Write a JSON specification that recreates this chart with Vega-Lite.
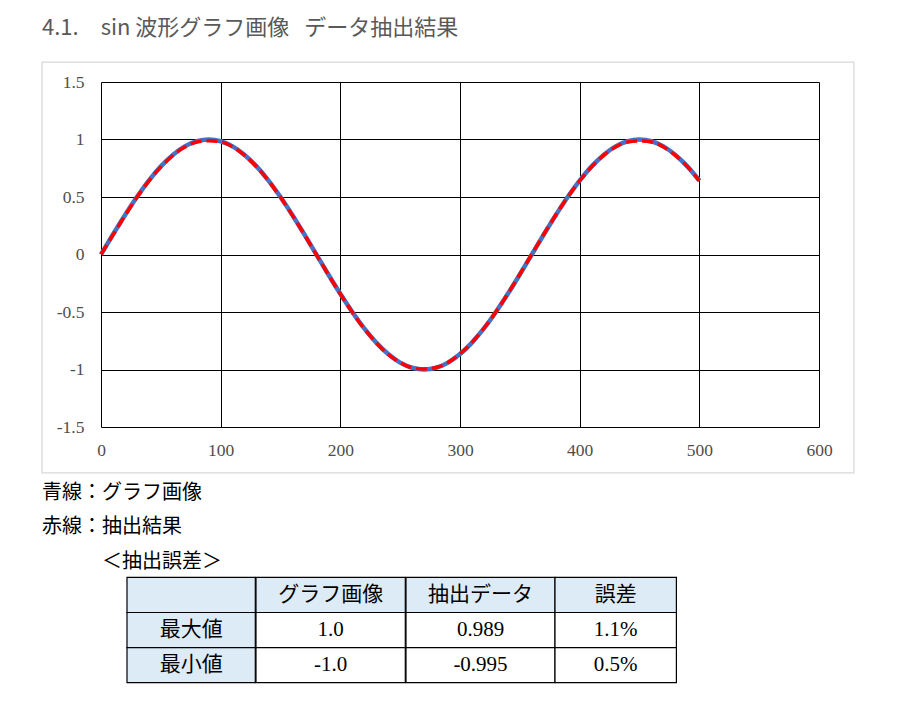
{
  "$schema": "https://vega.github.io/schema/vega-lite/v6.json",
  "background": "white",
  "padding": {"left": 41, "top": 17, "right": 0, "bottom": 0},
  "bounds": "flush",
  "spacing": 150.4,
  "title": {
    "text": "4.1.　sin 波形グラフ画像\u00a0\u00a0\u00a0データ抽出結果",
    "anchor": "start",
    "frame": "group",
    "dx": -59,
    "offset": 21,
    "font": "Noto Sans CJK JP",
    "fontSize": 22,
    "fontWeight": "normal",
    "color": "#595959"
  },
  "config": {"view": {"stroke": null}},
  "datasets": {
    "sine": [
      {"deg": 0, "img": 0, "ext": 0.002},
      {"deg": 10, "img": 0.174, "ext": 0.170},
      {"deg": 20, "img": 0.342, "ext": 0.338},
      {"deg": 30, "img": 0.5, "ext": 0.497},
      {"deg": 40, "img": 0.643, "ext": 0.640},
      {"deg": 50, "img": 0.766, "ext": 0.762},
      {"deg": 60, "img": 0.866, "ext": 0.861},
      {"deg": 70, "img": 0.940, "ext": 0.934},
      {"deg": 80, "img": 0.985, "ext": 0.978},
      {"deg": 90, "img": 1.0, "ext": 0.989},
      {"deg": 100, "img": 0.985, "ext": 0.980},
      {"deg": 110, "img": 0.940, "ext": 0.936},
      {"deg": 120, "img": 0.866, "ext": 0.862},
      {"deg": 130, "img": 0.766, "ext": 0.763},
      {"deg": 140, "img": 0.643, "ext": 0.640},
      {"deg": 150, "img": 0.5, "ext": 0.497},
      {"deg": 160, "img": 0.342, "ext": 0.340},
      {"deg": 170, "img": 0.174, "ext": 0.172},
      {"deg": 180, "img": 0, "ext": -0.002},
      {"deg": 190, "img": -0.174, "ext": -0.176},
      {"deg": 200, "img": -0.342, "ext": -0.344},
      {"deg": 210, "img": -0.5, "ext": -0.503},
      {"deg": 220, "img": -0.643, "ext": -0.646},
      {"deg": 230, "img": -0.766, "ext": -0.768},
      {"deg": 240, "img": -0.866, "ext": -0.868},
      {"deg": 250, "img": -0.940, "ext": -0.940},
      {"deg": 260, "img": -0.985, "ext": -0.984},
      {"deg": 270, "img": -1.0, "ext": -0.995},
      {"deg": 280, "img": -0.985, "ext": -0.983},
      {"deg": 290, "img": -0.940, "ext": -0.938},
      {"deg": 300, "img": -0.866, "ext": -0.864},
      {"deg": 310, "img": -0.766, "ext": -0.764},
      {"deg": 320, "img": -0.643, "ext": -0.641},
      {"deg": 330, "img": -0.5, "ext": -0.498},
      {"deg": 340, "img": -0.342, "ext": -0.340},
      {"deg": 350, "img": -0.174, "ext": -0.171},
      {"deg": 360, "img": 0, "ext": 0.003},
      {"deg": 370, "img": 0.174, "ext": 0.176},
      {"deg": 380, "img": 0.342, "ext": 0.343},
      {"deg": 390, "img": 0.5, "ext": 0.500},
      {"deg": 400, "img": 0.643, "ext": 0.641},
      {"deg": 410, "img": 0.766, "ext": 0.763},
      {"deg": 420, "img": 0.866, "ext": 0.862},
      {"deg": 430, "img": 0.940, "ext": 0.935},
      {"deg": 440, "img": 0.985, "ext": 0.978},
      {"deg": 450, "img": 1.0, "ext": 0.988},
      {"deg": 460, "img": 0.985, "ext": 0.979},
      {"deg": 470, "img": 0.940, "ext": 0.935},
      {"deg": 480, "img": 0.866, "ext": 0.862},
      {"deg": 490, "img": 0.766, "ext": 0.764},
      {"deg": 500, "img": 0.643, "ext": 0.641}
    ],
    "table": [
      {"row": "h", "col": "c0", "label": ""},
      {"row": "h", "col": "c1", "label": "グラフ画像"},
      {"row": "h", "col": "c2", "label": "抽出データ"},
      {"row": "h", "col": "c3", "label": "誤差"},
      {"row": "max", "col": "c0", "label": "最大値"},
      {"row": "max", "col": "c1", "label": "1.0"},
      {"row": "max", "col": "c2", "label": "0.989"},
      {"row": "max", "col": "c3", "label": "1.1%"},
      {"row": "min", "col": "c0", "label": "最小値"},
      {"row": "min", "col": "c1", "label": "-1.0"},
      {"row": "min", "col": "c2", "label": "-0.995"},
      {"row": "min", "col": "c3", "label": "0.5%"}
    ]
  },
  "vconcat": [
    {
      "width": 718,
      "height": 345,
      "layer": [
        {
          "data": {"values": [{}]},
          "mark": {"type": "rect", "filled": false, "stroke": "#d9d9d9", "strokeWidth": 1.3},
          "encoding": {
            "x": {"datum": -49.3, "type": "quantitative"},
            "x2": {"datum": 629.2},
            "y": {"datum": 1.673, "type": "quantitative"},
            "y2": {"datum": -1.899}
          }
        },
        {
          "data": {"name": "sine"},
          "mark": {"type": "line", "color": "#4472C4", "strokeWidth": 4.5, "interpolate": "monotone"},
          "encoding": {
            "x": {
              "field": "deg", "type": "quantitative",
              "scale": {"domain": [0, 600], "nice": false, "zero": false},
              "axis": {
                "title": null, "values": [0, 100, 200, 300, 400, 500, 600],
                "grid": true, "gridColor": "black", "gridWidth": 1, "gridOpacity": 1,
                "domain": false, "ticks": false, "labelPadding": 14,
                "labelFont": "Liberation Serif", "labelFontSize": 17.5, "labelColor": "#4d4d4d",
                "labelFlush": false, "labelOverlap": false, "labelExpr": "'' + datum.value"
              }
            },
            "y": {
              "field": "img", "type": "quantitative",
              "scale": {"domain": [-1.5, 1.5], "nice": false, "zero": false},
              "axis": {
                "title": null, "values": [-1.5, -1, -0.5, 0, 0.5, 1, 1.5],
                "grid": true, "gridColor": "black", "gridWidth": 1, "gridOpacity": 1,
                "domain": false, "ticks": false, "labelPadding": 17,
                "labelFont": "Liberation Serif", "labelFontSize": 17.5, "labelColor": "#4d4d4d",
                "labelFlush": false, "labelOverlap": false, "labelExpr": "'' + datum.value"
              }
            }
          }
        },
        {
          "data": {"name": "sine"},
          "mark": {"type": "line", "color": "#FF0000", "strokeWidth": 3.5, "strokeDash": [11, 5], "interpolate": "monotone"},
          "encoding": {
            "x": {"field": "deg", "type": "quantitative"},
            "y": {"field": "ext", "type": "quantitative"}
          }
        }
      ]
    },
    {
      "title": {
        "text": ["青線：グラフ画像", "赤線：抽出結果", "\u200b　　　＜抽出誤差＞"],
        "anchor": "start",
        "frame": "group",
        "dx": -59,
        "offset": 5,
        "font": "Noto Sans CJK JP",
        "fontSize": 20,
        "fontWeight": "normal",
        "color": "black",
        "lineHeight": 34.3
      },
      "data": {"name": "table"},
      "bounds": "flush",
      "spacing": 0,
      "hconcat": [
        {
          "width": 25.4,
          "height": 105.3,
          "data": {"values": []},
          "mark": "rect",
          "encoding": {}
        },
        {
          "width": 128.3,
          "height": 105.3,
          "transform": [{"filter": "datum.col === 'c0'"}],
          "encoding": {
            "y": {"field": "row", "type": "nominal", "scale": {"domain": ["h", "max", "min"], "paddingInner": 0, "paddingOuter": 0}, "axis": null}
          },
          "layer": [
            {
              "mark": {"type": "rect", "stroke": "black", "strokeWidth": 1.2},
              "encoding": {"fill": {"condition": {"test": "datum.row === 'h' || datum.col === 'c0'", "value": "#DDEBF7"}, "value": "#FFFFFF"}}
            },
            {
              "mark": {"type": "text", "font": "Liberation Serif, Noto Sans CJK JP", "fontSize": 21, "color": "black", "baseline": "middle"},
              "encoding": {"text": {"field": "label"}}
            }
          ]
        },
        {
          "width": 149.3,
          "height": 105.3,
          "transform": [{"filter": "datum.col === 'c1'"}],
          "encoding": {
            "y": {"field": "row", "type": "nominal", "scale": {"domain": ["h", "max", "min"], "paddingInner": 0, "paddingOuter": 0}, "axis": null}
          },
          "layer": [
            {
              "mark": {"type": "rect", "stroke": "black", "strokeWidth": 1.2},
              "encoding": {"fill": {"condition": {"test": "datum.row === 'h' || datum.col === 'c0'", "value": "#DDEBF7"}, "value": "#FFFFFF"}}
            },
            {
              "mark": {"type": "text", "font": "Liberation Serif, Noto Sans CJK JP", "fontSize": 21, "color": "black", "baseline": "middle"},
              "encoding": {"text": {"field": "label"}}
            }
          ]
        },
        {
          "width": 149,
          "height": 105.3,
          "transform": [{"filter": "datum.col === 'c2'"}],
          "encoding": {
            "y": {"field": "row", "type": "nominal", "scale": {"domain": ["h", "max", "min"], "paddingInner": 0, "paddingOuter": 0}, "axis": null}
          },
          "layer": [
            {
              "mark": {"type": "rect", "stroke": "black", "strokeWidth": 1.2},
              "encoding": {"fill": {"condition": {"test": "datum.row === 'h' || datum.col === 'c0'", "value": "#DDEBF7"}, "value": "#FFFFFF"}}
            },
            {
              "mark": {"type": "text", "font": "Liberation Serif, Noto Sans CJK JP", "fontSize": 21, "color": "black", "baseline": "middle"},
              "encoding": {"text": {"field": "label"}}
            }
          ]
        },
        {
          "width": 121.4,
          "height": 105.3,
          "transform": [{"filter": "datum.col === 'c3'"}],
          "encoding": {
            "y": {"field": "row", "type": "nominal", "scale": {"domain": ["h", "max", "min"], "paddingInner": 0, "paddingOuter": 0}, "axis": null}
          },
          "layer": [
            {
              "mark": {"type": "rect", "stroke": "black", "strokeWidth": 1.2},
              "encoding": {"fill": {"condition": {"test": "datum.row === 'h' || datum.col === 'c0'", "value": "#DDEBF7"}, "value": "#FFFFFF"}}
            },
            {
              "mark": {"type": "text", "font": "Liberation Serif, Noto Sans CJK JP", "fontSize": 21, "color": "black", "baseline": "middle"},
              "encoding": {"text": {"field": "label"}}
            }
          ]
        }
      ]
    }
  ]
}
